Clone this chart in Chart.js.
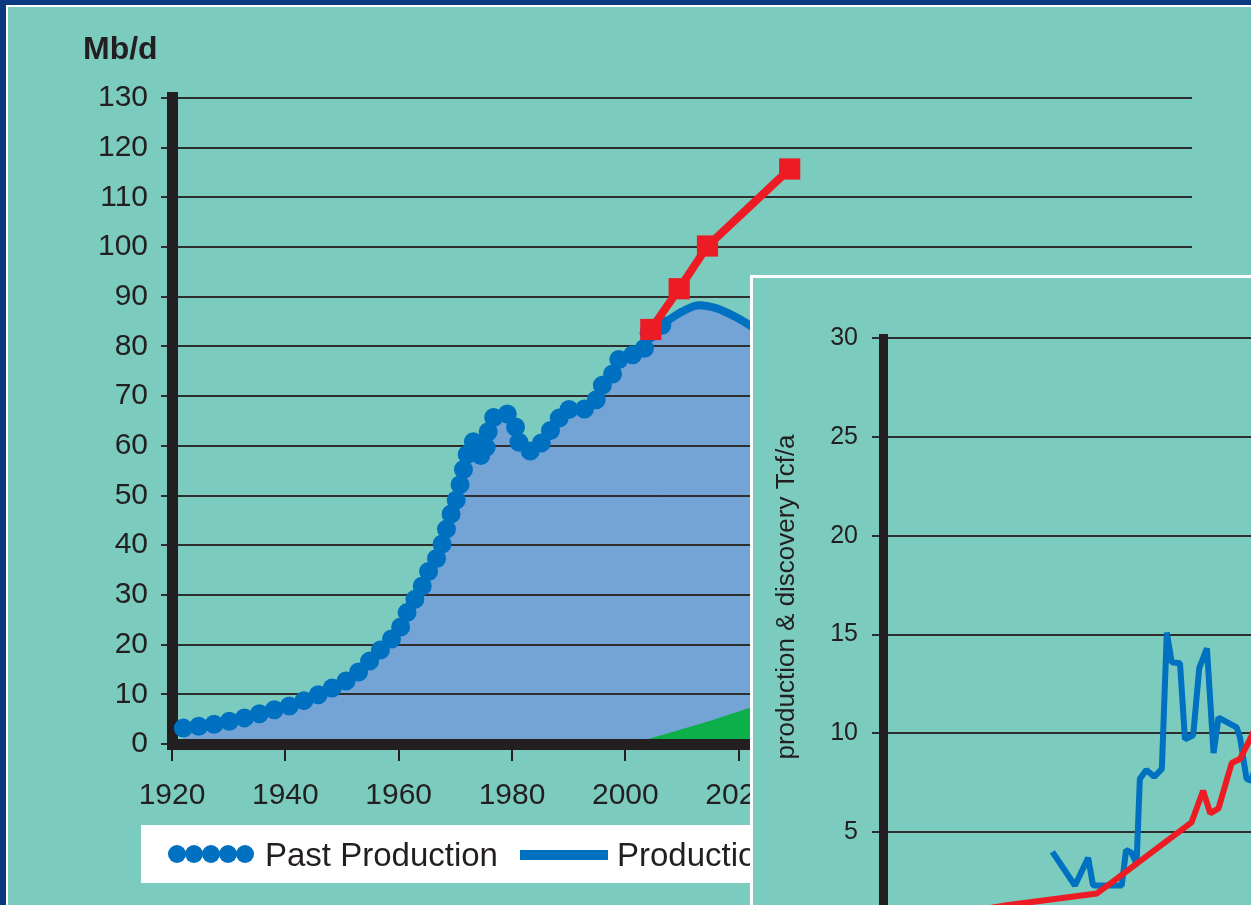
<!DOCTYPE html>
<html>
<head>
<meta charset="utf-8">
<script src="https://cdn.jsdelivr.net/npm/chart.js@4.4.1/dist/chart.umd.min.js"></script>
<style>
html, body { margin: 0; padding: 0; width: 1251px; height: 905px; overflow: hidden; background: #0b3a7e; }
.frame { position: absolute; left: 6px; top: 5px; width: 1260px; height: 920px; background: #7bccbf;
         border-left: 2px solid #fff; border-top: 2px solid #fff; }
#mainChart { position: absolute; left: 0; top: 0; }
.legend { position: absolute; left: 141px; top: 825px; width: 700px; height: 58px; background: #fff;
          font: 33px 'Liberation Sans', Arial, sans-serif; color: #231f20; }
.legend .dot { position: absolute; top: 20px; width: 18px; height: 18px; border-radius: 50%; background: #0070c0; }
.legend .txt { position: absolute; top: 1px; line-height: 58px; white-space: nowrap; }
.legend .bar { position: absolute; left: 379px; top: 25px; width: 88px; height: 10px; background: #0070c0; }
.inset { position: absolute; left: 750px; top: 275px; width: 720px; height: 720px; background: #7bccbf;
         border-left: 3px solid #fff; border-top: 3px solid #fff; }
#insetChart { position: absolute; left: 0; top: 0; }
</style>
</head>
<body>
<div class="frame"></div>
<canvas id="mainChart" width="1251" height="905"></canvas>
<div class="legend">
  <div class="dot" style="left:27px"></div>
  <div class="dot" style="left:44px"></div>
  <div class="dot" style="left:61px"></div>
  <div class="dot" style="left:78px"></div>
  <div class="dot" style="left:95px"></div>
  <div class="txt" style="left:124px">Past Production</div>
  <div class="bar"></div>
  <div class="txt" style="left:476px">Production forecast</div>
</div>
<div class="inset"><canvas id="insetChart" width="700" height="700"></canvas></div>

<script>
// main chart: world oil, Mb/d
const pastYears = [1922, 1925, 1928, 1931, 1934, 1937, 1940, 1943, 1946, 1949,
    1952, 1954, 1956, 1958, 1960, 1961, 1962.5, 1964, 1965, 1967,
    1968, 1969, 1970, 1971, 1972, 1973, 1975, 1976, 1978.5, 1980.5,
    1981.5, 1984, 1986, 1988, 1989, 1992, 1995, 1996, 1998, 1999,
    2001, 2003, 2004, 2006, 2008];
const pastValues = [3.2, 3.6, 4.1, 4.8, 5.6, 6.6, 7.4, 8.6, 10.0, 11.7,
    13.6, 15.7, 18.0, 20.4, 22.7, 25.4, 28.4, 31.4, 34.1, 38.1,
    41.5, 45.5, 48.5, 53.0, 57.9, 60.9, 57.5, 63.9, 66.6, 64.2,
    59.9, 58.9, 62.2, 64.6, 67.3, 67.3, 69.5, 72.3, 74.9, 77.6,
    78.3, 78.6, 82.3, 84.0, 85.0];
const forecastYears = [2006, 2008, 2010, 2013, 2016, 2019, 2022, 2026, 2030];
const forecastValues = [84.0, 85.6, 87.0, 88.3, 87.7, 86.2, 84.2, 80.5, 76.0];
const unconvYears = [2001, 2008, 2015, 2022, 2030];
const unconvValues = [0, 2.3, 4.7, 7.3, 10.5];
const ieaYears = [2004.5, 2009.5, 2014.5, 2029];
const ieaValues = [83.4, 91.6, 100.2, 115.7];
const mainXTicks = [1920, 1940, 1960, 1980, 2000, 2020, 2040, 2060, 2080, 2100];
const mainYTicks = [0, 10, 20, 30, 40, 50, 60, 70, 80, 90, 100, 110, 120, 130];

// inset chart: gas, Tcf/a
const discYears = [1930.8, 1934.9, 1937.3, 1938.2, 1943.4, 1944.2, 1945.2, 1946.1, 1946.7, 1947.9,
    1949.3, 1950.7, 1951.6, 1952.5, 1954.0, 1954.9, 1956.4, 1957.5, 1958.9, 1960.1,
    1961.0, 1964.3, 1964.9, 1966.1, 1966.9, 1968.0];
const discValues = [4.0, 2.3, 3.7, 2.3, 2.3, 4.1, 3.95, 3.4, 7.7, 8.15,
    7.8, 8.2, 15.1, 13.6, 13.55, 9.7, 9.9, 13.3, 14.3, 9.0,
    10.8, 10.3, 9.8, 7.7, 7.6, 8.5];
const prodYears = [1903.1, 1922.5, 1938.9, 1941.3, 1956.1, 1958.2, 1959.5, 1961.0, 1963.4, 1964.9, 1966.9, 1968.2];
const prodValues = [0.4, 1.3, 1.9, 2.4, 5.5, 7.1, 5.95, 6.2, 8.5, 8.7, 9.8, 10.6];
const insetYTicks = [0, 5, 10, 15, 20, 25, 30];

const BLUE = '#0070c0';
const AREA = '#74a3d5';
const RED = '#ed1c24';
const GREEN = '#0daf4b';
const INK = '#231f20';
const GRID = '#2e2e2e';

Chart.defaults.font.family = "'Liberation Sans', Arial, Helvetica, sans-serif";
Chart.defaults.color = INK;

function pts(xs, ys) {
    return xs.map((x, i) => ({ x: x, y: ys[i] }));
}
function fixedTicks(list) {
    return scale => { scale.ticks = list.map(v => ({ value: v })); };
}

new Chart(document.getElementById('mainChart'), {
    type: 'line',
    data: {
        datasets: [
            {   // red squares
                label: 'Forecast',
                data: pts(ieaYears, ieaValues),
                borderColor: RED, backgroundColor: RED,
                borderWidth: 8, pointStyle: 'rect', pointRadius: 15,
                pointBackgroundColor: RED, pointBorderWidth: 0, fill: false
            },
            {
                label: 'Non-conventional',
                data: pts(unconvYears, unconvValues),
                borderWidth: 0, pointRadius: 0,
                backgroundColor: GREEN, fill: 'origin'
            },
            {
                label: 'Production forecast',
                data: pts(forecastYears, forecastValues),
                borderColor: BLUE, borderWidth: 8, pointRadius: 0,
                cubicInterpolationMode: 'monotone',
                backgroundColor: AREA, fill: 'origin'
            },
            {   // dotted line: zero-length dashes with round caps
                label: 'Past Production',
                data: pts(pastYears, pastValues),
                borderColor: BLUE, borderWidth: 19, borderDash: [0, 15.5],
                borderCapStyle: 'round', borderJoinStyle: 'round', pointRadius: 0,
                cubicInterpolationMode: 'monotone',
                backgroundColor: AREA, fill: 'origin'
            }
        ]
    },
    options: {
        responsive: false,
        animation: false,
        layout: { padding: { left: 83, right: 59, top: 0, bottom: 0 } },
        plugins: {
            legend: { display: false },
            tooltip: { enabled: false },
            filler: { drawTime: 'beforeDraw' },
            title: {
                display: true, text: 'Mb/d', align: 'start', color: INK,
                font: { size: 32, weight: 'bold' },
                padding: { top: 31, bottom: 28.5 }
            }
        },
        scales: {
            x: {
                type: 'linear', min: 1920, max: 2100,
                afterBuildTicks: fixedTicks(mainXTicks),
                afterFit: s => { s.height = 161; },
                border: { color: INK, width: 11 },
                grid: { drawOnChartArea: false, color: INK, lineWidth: 2, tickLength: 17 },
                ticks: { font: { size: 30 }, padding: 17, maxRotation: 0, autoSkip: false, callback: v => String(v) }
            },
            y: {
                min: 0, max: 130,
                afterBuildTicks: fixedTicks(mainYTicks),
                afterFit: s => { s.width = 89; },
                border: { color: INK, width: 11 },
                grid: { color: GRID, lineWidth: 2, tickLength: 11 },
                ticks: { font: { size: 30 }, padding: 13 }
            }
        }
    }
});

const insetTitle = {
    id: 'insetTitle',
    afterDraw(chart) {
        const ctx = chart.ctx;
        ctx.save();
        ctx.translate(34, 319);
        ctx.rotate(-Math.PI / 2);
        ctx.font = "26px 'Liberation Sans', Arial, sans-serif";
        ctx.fillStyle = INK;
        ctx.textAlign = 'center';
        ctx.textBaseline = 'middle';
        ctx.fillText('production & discovery Tcf/a', 0, 0);
        ctx.restore();
    }
};

new Chart(document.getElementById('insetChart'), {
    type: 'line',
    data: {
        datasets: [
            {
                label: 'production',
                data: pts(prodYears, prodValues),
                borderColor: RED, borderWidth: 6, pointRadius: 0,
                borderJoinStyle: 'bevel', fill: false
            },
            {
                label: 'discovery',
                data: pts(discYears, discValues),
                borderColor: BLUE, borderWidth: 6, pointRadius: 0,
                borderJoinStyle: 'bevel', fill: false
            }
        ]
    },
    options: {
        responsive: false,
        animation: false,
        layout: { padding: { left: 0, right: 20, top: 60, bottom: 47 } },
        plugins: { legend: { display: false }, tooltip: { enabled: false } },
        scales: {
            x: { type: 'linear', min: 1900, max: 2000, display: false },
            y: {
                min: 0, max: 30,
                afterBuildTicks: fixedTicks(insetYTicks),
                afterFit: s => { s.width = 130; },
                border: { color: INK, width: 9 },
                grid: { color: GRID, lineWidth: 2, tickLength: 11 },
                ticks: { font: { size: 25 }, padding: 14 }
            }
        }
    },
    plugins: [insetTitle]
});
</script>
</body>
</html>
